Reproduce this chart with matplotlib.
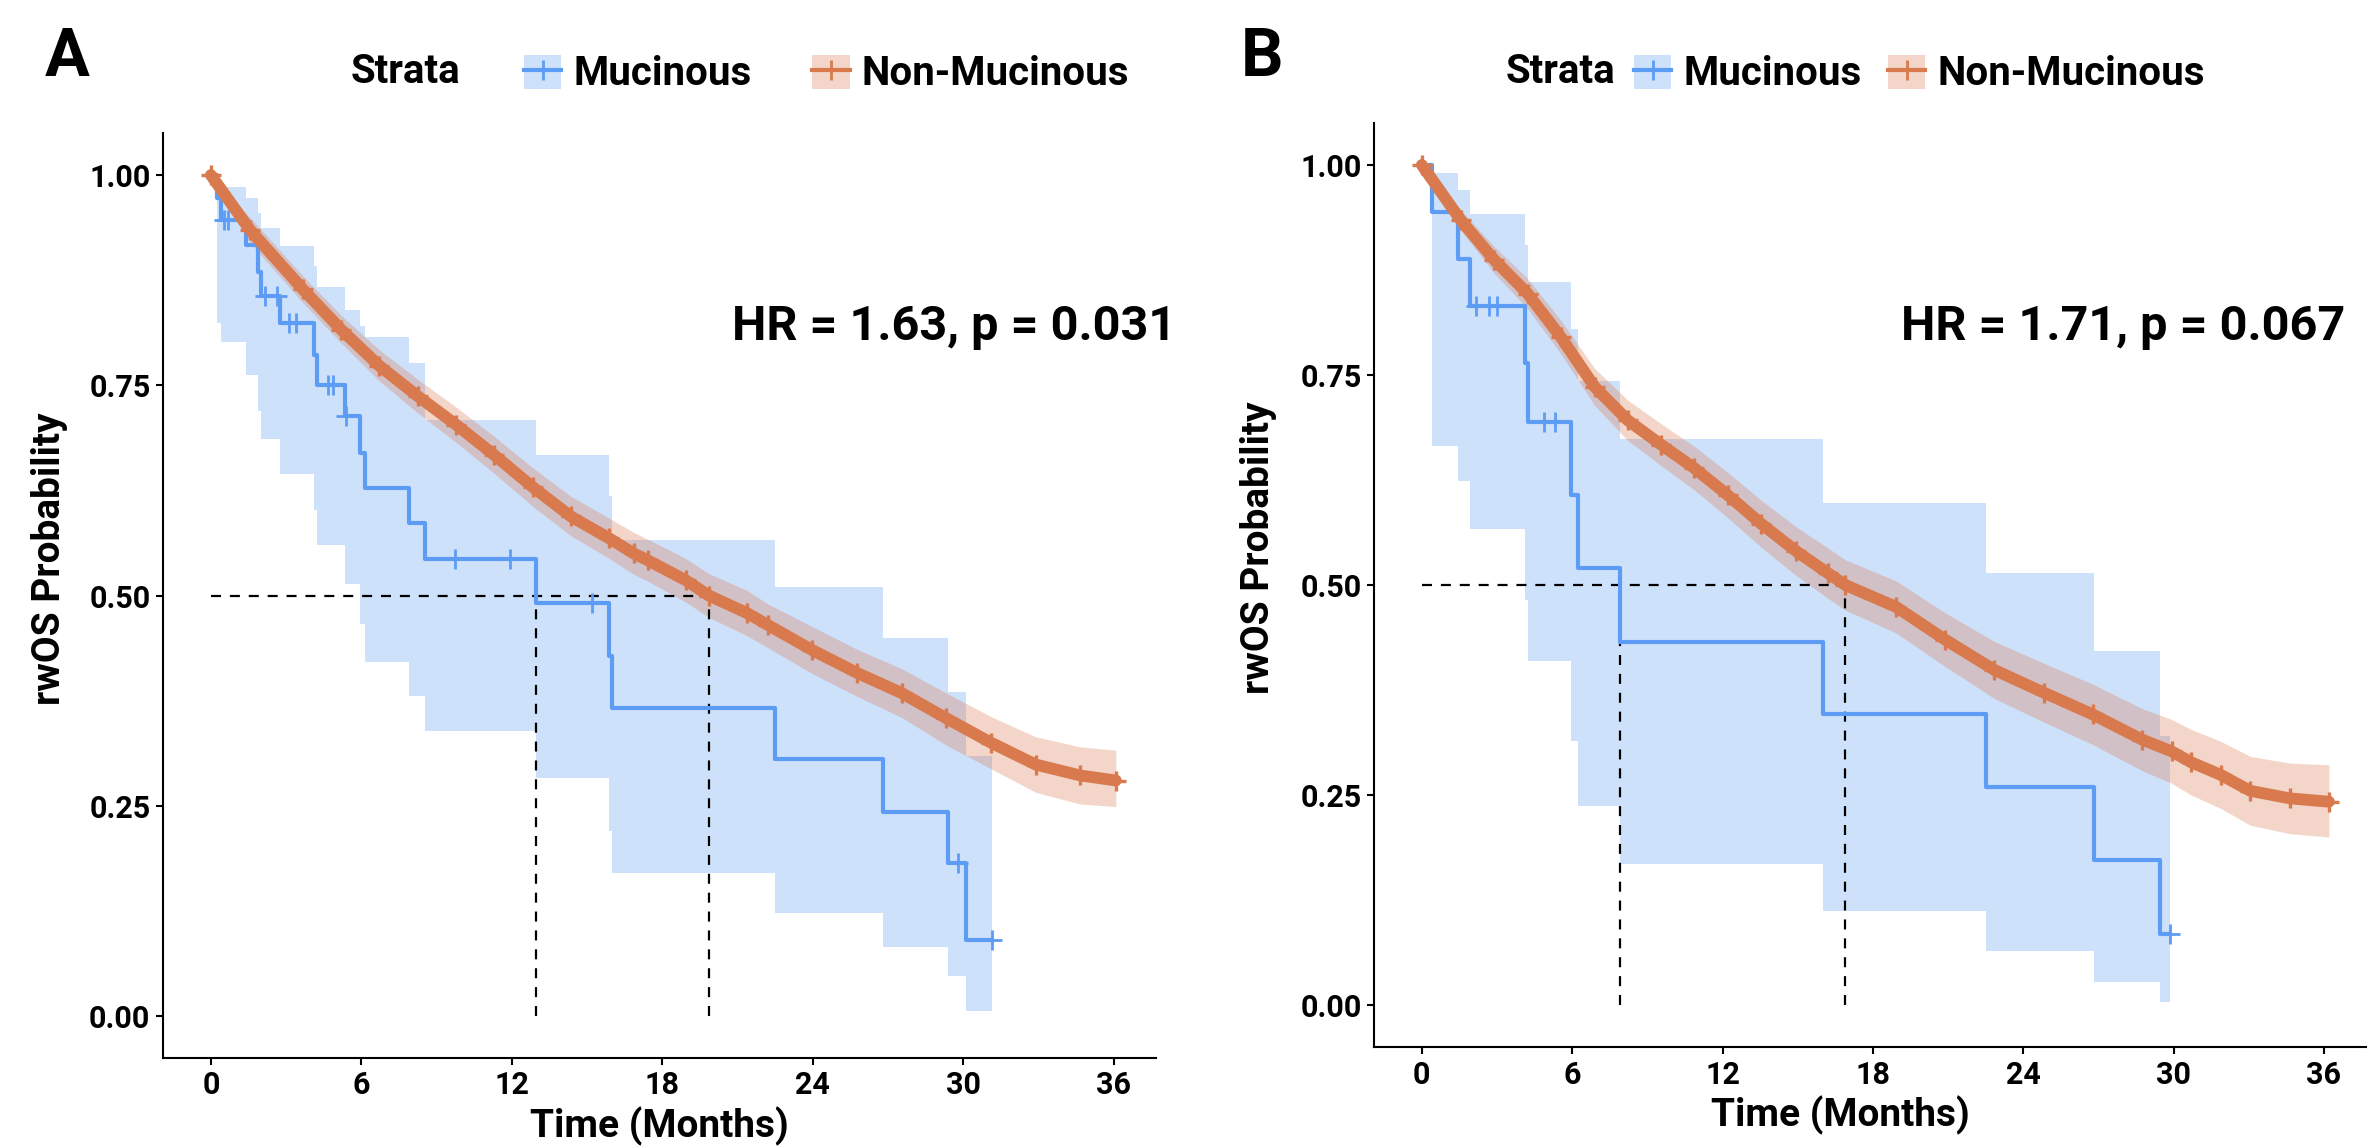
import numpy as np
import matplotlib
matplotlib.use("Agg")
import matplotlib.pyplot as plt
from matplotlib.patches import Patch
from matplotlib.lines import Line2D
from matplotlib.legend_handler import HandlerTuple

plt.rcParams['font.family'] = ['Roboto', 'DejaVu Sans']
plt.rcParams['font.weight'] = 'bold'
plt.rcParams['axes.labelweight'] = 'bold'

BLUE = '#5d9cf5'
ORANGE = '#d97a4e'

# ---- panel A : Mucinous (step curve, 95% CI, censor times)
a_muc_t = [0, 0.24, 0.39, 1.38, 1.89, 2.00, 2.76, 4.13, 4.24, 5.35, 5.93, 6.16, 7.91, 8.55,
           12.98, 15.88, 15.98, 22.47, 26.78, 29.38, 30.12, 31.16]
a_muc_s = [1.0, 0.973, 0.947, 0.917, 0.885, 0.856, 0.824, 0.786, 0.750, 0.713, 0.669, 0.628,
           0.586, 0.544, 0.491, 0.428, 0.366, 0.305, 0.243, 0.182, 0.090, 0.090]
a_muc_lo = [1.0, 0.824, 0.801, 0.762, 0.720, 0.686, 0.645, 0.602, 0.560, 0.514, 0.466, 0.421,
            0.380, 0.339, 0.283, 0.220, 0.170, 0.123, 0.082, 0.047, 0.006, 0.006]
a_muc_hi = [1.0, 0.990, 0.986, 0.973, 0.955, 0.937, 0.916, 0.892, 0.867, 0.840, 0.820, 0.808,
            0.777, 0.709, 0.667, 0.618, 0.566, 0.510, 0.450, 0.385, 0.309, 0.309]
a_muc_cens = [0.54, 0.69, 2.16, 2.62, 3.13, 3.40, 4.66, 4.86, 5.40, 9.74, 11.94, 15.19, 29.77, 31.16]

# ---- panel A : Non-Mucinous
a_non_t = [0, 1.55, 3.67, 5.20, 6.72, 8.25, 9.78, 11.30, 12.83, 14.35, 15.88, 16.86, 17.41,
           18.94, 19.85, 21.38, 22.20, 23.98, 25.76, 27.54, 29.32, 31.10, 32.88, 34.66, 36.08]
a_non_s = [1.0, 0.935, 0.864, 0.816, 0.773, 0.737, 0.703, 0.667, 0.629, 0.594, 0.568, 0.550, 0.542,
           0.518, 0.500, 0.479, 0.465, 0.435, 0.408, 0.384, 0.354, 0.325, 0.299, 0.286, 0.280]
a_non_lo = [1.0, 0.920, 0.848, 0.800, 0.755, 0.717, 0.682, 0.645, 0.606, 0.571, 0.544, 0.525, 0.517,
            0.492, 0.474, 0.452, 0.438, 0.407, 0.380, 0.355, 0.322, 0.294, 0.266, 0.252, 0.249]
a_non_hi = [1.0, 0.950, 0.880, 0.833, 0.792, 0.757, 0.724, 0.689, 0.652, 0.618, 0.592, 0.575, 0.567,
            0.544, 0.526, 0.506, 0.490, 0.463, 0.436, 0.413, 0.384, 0.356, 0.332, 0.320, 0.316]

# ---- panel B : Mucinous
b_muc_t = [0, 0.39, 1.43, 1.94, 4.13, 4.22, 5.96, 6.22, 7.90, 16.01, 22.51, 26.83, 29.47, 29.86]
b_muc_s = [1.0, 0.944, 0.888, 0.832, 0.764, 0.694, 0.607, 0.520, 0.432, 0.346, 0.260, 0.173, 0.085, 0.085]
b_muc_lo = [1.0, 0.666, 0.624, 0.567, 0.482, 0.409, 0.314, 0.237, 0.168, 0.112, 0.064, 0.027, 0.004, 0.004]
b_muc_hi = [1.0, 0.991, 0.970, 0.942, 0.905, 0.861, 0.805, 0.743, 0.674, 0.598, 0.514, 0.421, 0.320, 0.320]
b_muc_cens = [2.15, 2.66, 2.99, 4.89, 5.33, 29.86]

# ---- panel B : Non-Mucinous
b_non_t = [0, 1.56, 2.89, 4.22, 5.55, 6.89, 8.22, 9.55, 10.88, 12.21, 13.54, 14.95, 16.21, 16.90,
           18.92, 20.88, 22.84, 24.81, 26.77, 28.74, 29.92, 30.70, 31.88, 33.06, 34.63, 36.20]
b_non_s = [1.0, 0.934, 0.887, 0.847, 0.795, 0.736, 0.696, 0.667, 0.639, 0.607, 0.573, 0.540, 0.514, 0.500,
           0.474, 0.435, 0.399, 0.372, 0.346, 0.316, 0.302, 0.289, 0.274, 0.255, 0.246, 0.242]
b_non_lo = [1.0, 0.922, 0.871, 0.829, 0.775, 0.714, 0.672, 0.642, 0.613, 0.580, 0.545, 0.511, 0.484, 0.470,
            0.443, 0.403, 0.365, 0.337, 0.310, 0.279, 0.264, 0.250, 0.234, 0.214, 0.204, 0.200]
b_non_hi = [1.0, 0.946, 0.903, 0.865, 0.815, 0.758, 0.720, 0.692, 0.665, 0.634, 0.601, 0.569, 0.544, 0.530,
            0.505, 0.467, 0.433, 0.407, 0.382, 0.353, 0.340, 0.328, 0.314, 0.296, 0.288, 0.286]

medians_a = [12.98, 19.85]
medians_b = [7.90, 16.90]
hr_a = 'HR = 1.63, p = 0.031'
hr_b = 'HR = 1.71, p = 0.067'

W, H = 2370, 1147
fig = plt.figure(figsize=(W / 100, H / 100), dpi=100)


def px(x0, y0, x1, y1):
    return [x0 / W, 1 - y1 / H, (x1 - x0) / W, (y1 - y0) / H]


def step_at(t, s, x):
    i = np.searchsorted(t, x, side='right') - 1
    return np.asarray(s)[i]


def panel(ax, mt, ms, mlo, mhi, mc, nt, ns, nlo, nhi, meds, hr, hr_xy):
    ax.fill_between(mt, mlo, mhi, step='post', color=BLUE, alpha=0.3, lw=0, zorder=1)
    ax.fill_between(nt, nlo, nhi, color=ORANGE, alpha=0.3, lw=0, zorder=2)
    ls = (0, (4.5, 4))
    ax.plot([0, meds[1]], [0.5, 0.5], color='black', lw=1.6, ls=ls, zorder=3)
    for m in meds:
        ax.plot([m, m], [0, 0.5], color='black', lw=1.6, ls=ls, zorder=3)
    ax.step(mt, ms, where='post', color=BLUE, lw=3, zorder=4)
    ax.plot(mc, step_at(mt, ms, mc), ls='none', marker='+', ms=14, mew=2, color=BLUE, zorder=4)
    ax.plot(nt, ns, color=ORANGE, lw=8.5, solid_capstyle='round', zorder=5)
    ax.plot(nt, ns, ls='none', marker='+', ms=15, mew=2.4, color=ORANGE, zorder=5)
    ax.text(hr_xy[0], hr_xy[1], hr, fontsize=35, ha='left', va='baseline', clip_on=False)

    ax.set_xlim(-1.91, 37.68)
    ax.set_ylim(-0.05, 1.05)
    ax.set_xticks(range(0, 37, 6))
    ax.set_yticks([0, 0.25, 0.5, 0.75, 1.0])
    ax.set_yticklabels(['0.00', '0.25', '0.50', '0.75', '1.00'])
    for s in ['top', 'right']:
        ax.spines[s].set_visible(False)
    for s in ['left', 'bottom']:
        ax.spines[s].set_linewidth(1.5)
    ax.tick_params(labelsize=22, length=5, width=1.5, pad=4)
    ax.set_xlabel('Time (Months)', fontsize=28, va='center')
    ax.set_ylabel('rwOS Probability', fontsize=28, va='center')


axA = fig.add_axes(px(163, 133, 1156, 1058))
panel(axA, a_muc_t, a_muc_s, a_muc_lo, a_muc_hi, a_muc_cens,
      a_non_t, a_non_s, a_non_lo, a_non_hi, medians_a, hr_a, (20.76, 0.804))
axA.yaxis.set_label_coords(-0.114, 0.54)
axA.xaxis.set_label_coords(0.5, -0.0735)

axB = fig.add_axes(px(1374, 123, 2366, 1047))
panel(axB, b_muc_t, b_muc_s, b_muc_lo, b_muc_hi, b_muc_cens,
      b_non_t, b_non_s, b_non_lo, b_non_hi, medians_b, hr_b, (19.14, 0.792))
axB.yaxis.set_label_coords(-0.116, 0.54)
axB.xaxis.set_label_coords(0.47, -0.0735)

# legends
handles = []
for c in (BLUE, ORANGE):
    handles.append((Patch(facecolor=c, alpha=0.3, edgecolor='none'),
                    Line2D([], [], color=c, lw=3, marker='+', ms=14, mew=2)))
labels = ['Mucinous', 'Non-Mucinous']

for strata_x, key_x, colsp in [(351, 524, 1.5), (1506, 1634, 0.65)]:
    fig.text(strata_x / W, 1 - 72 / H, 'Strata', fontsize=29, ha='left', va='center')
    fig.legend(handles, labels, handler_map={tuple: HandlerTuple(ndivide=1, pad=0)},
               loc='center left', bbox_to_anchor=(key_x / W, 1 - 74 / H), ncol=2,
               frameon=False, fontsize=29, handlelength=0.93, handleheight=0.93,
               handletextpad=0.3, columnspacing=colsp, borderpad=0, borderaxespad=0)

fig.text(45 / W, 1 - 76 / H, 'A', fontsize=48, ha='left', va='baseline')
fig.text(1241 / W, 1 - 76 / H, 'B', fontsize=48, ha='left', va='baseline')

fig.savefig('out.png', dpi=100)
